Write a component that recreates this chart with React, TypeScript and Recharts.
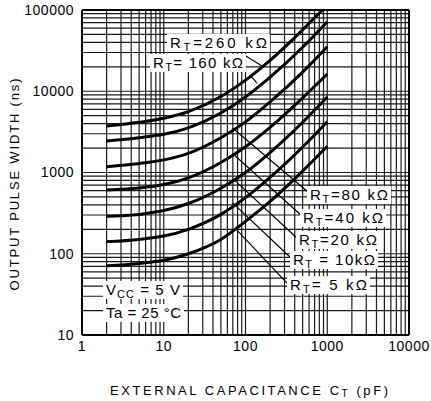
import { LineChart, Line, XAxis, YAxis, CartesianGrid, ReferenceLine, ReferenceDot } from 'recharts';

const FONT = '"Liberation Sans", Arial, sans-serif';

// capacitance (pF) sample points
const capPts = [2, 5, 10, 20, 50, 100, 200, 500, 1000];
const capPts260 = [2, 5, 10, 20, 50, 100, 200, 500, 870];

// output pulse width (ns) per timing resistor
const rt5k = [71, 76, 83, 100, 150, 250, 440, 1040, 2100];
const rt10k = [141, 150, 165, 200, 305, 490, 870, 2060, 4220];
const rt20k = [290, 305, 340, 415, 640, 1000, 1760, 4150, 8490];
const rt40k = [610, 645, 710, 860, 1330, 2080, 3600, 8300, 16300];
const rt80k = [1180, 1290, 1430, 1720, 2680, 4200, 7400, 17200, 35300];
const rt160k = [2440, 2680, 2950, 3550, 5400, 8500, 14900, 34800, 71800];
const rt260k = [3730, 4150, 4650, 5600, 8600, 13700, 24000, 57000, 100000];

const xTicks = [1, 10, 100, 1000, 10000];
const yTicks = [10, 100, 1000, 10000, 100000];

const series = [
  { name: '5k', xs: capPts, ys: rt5k },
  { name: '10k', xs: capPts, ys: rt10k },
  { name: '20k', xs: capPts, ys: rt20k },
  { name: '40k', xs: capPts, ys: rt40k },
  { name: '80k', xs: capPts, ys: rt80k },
  { name: '160k', xs: capPts, ys: rt160k },
  { name: '260k', xs: capPts260, ys: rt260k },
];

// log grid: 1..9 per decade
const decadeGrid = (from: number, to: number) => {
  const out: number[] = [];
  for (let d = from; d < to; d *= 10) {
    for (let m = 1; m < 10; m++) out.push(d * m);
  }
  out.push(to);
  return out;
};
const gridX = decadeGrid(1, 10000);
const gridY = decadeGrid(10, 100000);

// annotation boxes (left edge / vertical centre in data units)
const tags = [
  { x: 11.9, y: 39300, main: 'R', sub: 'T', rest: '=260 kΩ', w: 97 },
  { x: 7.39, y: 22300, main: 'R', sub: 'T', rest: '= 160 kΩ', w: 90 },
  { x: 615, y: 528, main: 'R', sub: 'T', rest: '=80 kΩ', w: 78 },
  { x: 505, y: 275, main: 'R', sub: 'T', rest: '=40 kΩ', w: 80 },
  { x: 451, y: 147.6, main: 'R', sub: 'T', rest: '=20 kΩ', w: 78 },
  { x: 381, y: 83.8, main: 'R', sub: 'T', rest: ' = 10kΩ', w: 82 },
  { x: 350, y: 41.2, main: 'R', sub: 'T', rest: '= 5 kΩ', w: 77 },
  { x: 1.966, y: 35.8, main: 'V', sub: 'CC', rest: ' = 5 V', w: 74 },
  { x: 1.966, y: 18.7, main: 'Ta', sub: '', rest: ' = 25 °C', w: 75 },
];

// leader lines from curves to labels
const leaders = [
  [{ x: 101, y: 27200 }, { x: 159, y: 20500 }],
  [{ x: 117, y: 15400 }, { x: 138, y: 12600 }],
  [{ x: 70, y: 3500 }, { x: 582, y: 575 }],
  [{ x: 70, y: 1700 }, { x: 491, y: 292 }],
  [{ x: 70, y: 840 }, { x: 426, y: 156 }],
  [{ x: 70, y: 420 }, { x: 360, y: 88.7 }],
  [{ x: 75, y: 205 }, { x: 322, y: 43.6 }],
];

function Tag(props: any) {
  const { cx, cy, main, sub, rest, w } = props;
  if (cx == null || cy == null) return null;
  return (
    <g>
      <rect x={cx - 3} y={cy - 9} width={w + 6} height={18} fill="#fff" />
      <text x={cx} y={cy + 5} fontSize={15} fontFamily={FONT} fill="#000" textLength={w} lengthAdjust="spacing">
        <tspan>{main}</tspan>
        {sub ? <tspan fontSize={11} dy={3}>{sub}</tspan> : null}
        <tspan dy={sub ? -3 : 0}>{rest}</tspan>
      </text>
    </g>
  );
}

function XTitle(props: any) {
  const vb = props.viewBox || { x: 82, y: 335, width: 327, height: 66 };
  return (
    <text x={vb.x + vb.width / 2 + 3.5} y={vb.y + 60} textAnchor="middle" fontSize={13} fontFamily={FONT} fill="#000" textLength={278} lengthAdjust="spacing">
      EXTERNAL CAPACITANCE C<tspan fontSize={10} dy={2}>T</tspan><tspan dy={-2}> (pF)</tspan>
    </text>
  );
}

function YTitle(props: any) {
  const vb = props.viewBox || { x: 0, y: 10, width: 82, height: 325 };
  const x = vb.x + 19;
  const y = vb.y + vb.height / 2 + 12;
  return (
    <text x={x} y={y} transform={`rotate(-90, ${x}, ${y})`} textAnchor="middle" fontSize={13} fontFamily={FONT} fill="#000" textLength={212} lengthAdjust="spacing">
      OUTPUT PULSE WIDTH (ns)
    </text>
  );
}

export default function App() {
  const tickStyle = { fill: '#000', fontSize: 14, fontFamily: FONT, letterSpacing: 0.5 };
  return (
    <div style={{ position: 'absolute', left: 0, top: 0, width: 431, height: 401, background: '#fff' }}>
      <LineChart width={431} height={401} margin={{ top: 10, right: 22, left: 0, bottom: 0 }}>
        <CartesianGrid stroke="#1a1a1a" strokeWidth={1.2} horizontalValues={gridY} verticalValues={gridX} />
        <XAxis
          type="number"
          dataKey="x"
          scale="log"
          domain={[1, 10000]}
          ticks={xTicks}
          interval={0}
          allowDataOverflow
          tickLine={false}
          tickMargin={0}
          axisLine={{ stroke: '#000', strokeWidth: 2 }}
          tick={tickStyle}
          height={66}
          label={{ content: (p: any) => <XTitle {...p} /> }}
        />
        <YAxis
          type="number"
          dataKey="y"
          scale="log"
          domain={[10, 100000]}
          ticks={yTicks}
          interval={0}
          allowDataOverflow
          tickLine={false}
          axisLine={{ stroke: '#000', strokeWidth: 2 }}
          tick={tickStyle}
          width={82}
          label={{ content: (p: any) => <YTitle {...p} /> }}
        />
        <ReferenceLine x={10000} stroke="#000" strokeWidth={2} />
        <ReferenceLine y={100000} stroke="#000" strokeWidth={2} />
        {leaders.map((seg, i) => (
          <ReferenceLine key={`ld-${i}`} segment={seg} stroke="#000" strokeWidth={1.2} ifOverflow="visible" />
        ))}
        {series.map((s) => (
          <Line
            key={s.name}
            data={s.xs.map((x, i) => ({ x, y: s.ys[i] }))}
            dataKey="y"
            type="monotone"
            stroke="#000"
            strokeWidth={3}
            dot={false}
            activeDot={false}
            isAnimationActive={false}
          />
        ))}
        {tags.map((t, i) => (
          <ReferenceDot
            key={`tag-${i}`}
            x={t.x}
            y={t.y}
            r={0}
            ifOverflow="visible"
            shape={(p: any) => <Tag cx={p.cx} cy={p.cy} main={t.main} sub={t.sub} rest={t.rest} w={t.w} />}
          />
        ))}
      </LineChart>
    </div>
  );
}
